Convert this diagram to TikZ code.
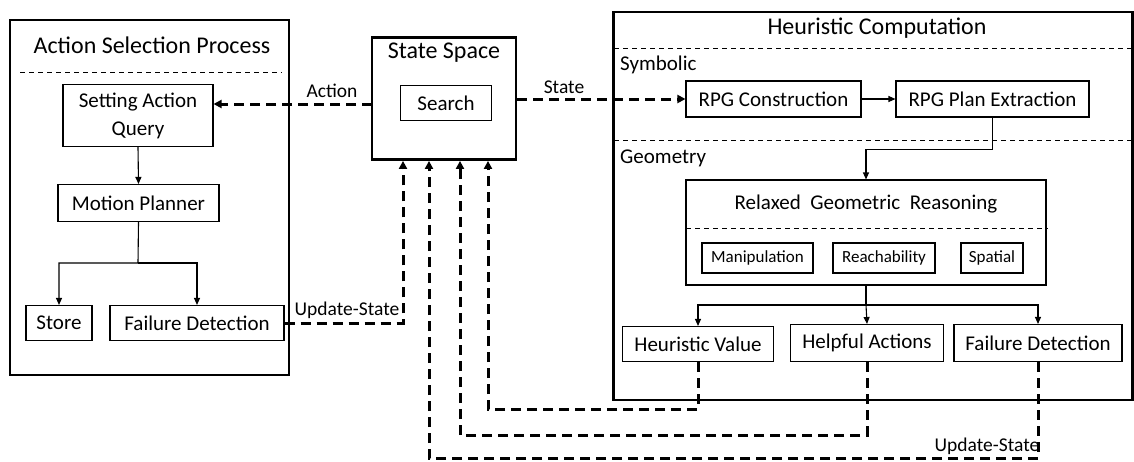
\documentclass[tikz,border=0pt]{standalone}
\usepackage{fontspec}
\setmainfont{Carlito}
\usetikzlibrary{arrows.meta}
\begin{document}
\begin{tikzpicture}[x=1pt,y=-1pt,
  outer/.style={draw, line width=2.8pt, inner sep=0pt},
  box/.style={draw, line width=1.1pt, inner sep=0pt, align=center,
    font=\fontsize{21}{28}\selectfont},
  smallbox/.style={box, font=\fontsize{17}{20}\selectfont},
  title/.style={inner sep=0pt, font=\fontsize{24}{28}\selectfont},
  lbl/.style={inner sep=0pt, font=\fontsize{19.5}{22}\selectfont},
  sec/.style={inner sep=0pt, anchor=west, font=\fontsize{21}{24}\selectfont},
  sep/.style={line width=0.9pt, dash pattern=on 5pt off 4pt},
  flow/.style={line width=1.1pt, -{Triangle[width=6pt,length=7pt]}},
  fb/.style={line width=3pt, dash pattern=on 10pt off 6pt,
    -{Triangle[width=8pt,length=8pt]}}]
\useasboundingbox (0,0) rectangle (1134,461);

% ---- action selection process ----
\node[outer, minimum width=279, minimum height=355] (asp) at (149.5,197.5) {};
\node[title] (aspT) at (152,45) {Action Selection Process};
\draw[sep] (20,72) -- (282,72);
\node[box, minimum width=150, minimum height=62] (saq) at (138,115.5) {Setting Action\\Query};
\node[box, minimum width=161, minimum height=37] (mp) at (138.5,203) {Motion Planner};
\node[box, minimum width=66, minimum height=35] (store) at (59,323) {Store};
\node[box, minimum width=174, minimum height=35] (fd1) at (197,323) {Failure Detection};

% ---- state space ----
\node[outer, minimum width=144, minimum height=122] (ss) at (444,98.5) {};
\node[title] (ssT) at (444,53) {State Space};
\node[box, minimum width=91, minimum height=35] (search) at (446,103) {Search};

% ---- heuristic computation ----
\node[outer, minimum width=519, minimum height=388] (hc) at (873,206) {};
\node[title] (hcT) at (877,28) {Heuristic Computation};
\draw[sep] (614,48) -- (1133,48);
\draw[sep] (614,140) -- (1133,140);
\node[sec] (symT) at (620,65) {Symbolic};
\node[sec] (geoT) at (620,158) {Geometry};
\node[box, minimum width=175, minimum height=36] (rpgc) at (773.5,99) {RPG Construction};
\node[box, minimum width=193, minimum height=36] (rpgp) at (992.5,99) {RPG Plan Extraction};
\node[draw, line width=1.1pt, inner sep=0pt, minimum width=360, minimum height=105] (rgr) at (866,232.5) {};
\node[inner sep=0pt, font=\fontsize{21}{24}\selectfont] (rgrT) at (866,204) {Relaxed\ \ Geometric\ \ Reasoning};
\draw[sep] (686,228) -- (1048,228);
\node[smallbox, minimum width=111, minimum height=30] (manip) at (757.5,258) {Manipulation};
\node[smallbox, minimum width=102, minimum height=30] (reach) at (884,258) {Reachability};
\node[smallbox, minimum width=62, minimum height=30] (spat) at (992,258) {Spatial};
\node[box, minimum width=151, minimum height=35] (hv) at (698,344) {Heuristic Value};
\node[box, minimum width=153, minimum height=37] (ha) at (867,343) {Helpful Actions};
\node[box, minimum width=168, minimum height=37] (fd2) at (1038,343) {Failure Detection};

% ---- solid flow inside the blocks ----
\coordinate (split1) at (138,263);
\draw[flow] (saq.south) -- (mp.north);
\draw[flow] (mp.south) -- (split1) -| (store.north);
\draw[flow] (split1) -| (fd1.north);
\draw[flow] (rpgc.east) -- (rpgp.west);
\draw[flow] (rpgp.south) -- ++(0,32) -| (rgr.north);
\coordinate (split2) at (866,305);
\draw[flow] (rgr.south) -- (split2) -| (hv.north);
\draw[flow] (split2) -- (ha.north);
\draw[flow] (split2) -| (fd2.north);

% ---- dashed exchanges with the state space ----
\coordinate (actY) at (372,104);
\draw[fb] (actY) -- (saq.east |- actY);
\node[lbl] (actL) at (332,91) {Action};
\draw[fb] (ss.east |- rpgc.west) -- (rpgc.west);
\node[lbl] (stL) at (564,87) {State};

\coordinate (in1) at ([xshift=-41pt]ss.south);
\coordinate (in2) at ([xshift=-15pt]ss.south);
\coordinate (in3) at ([xshift=16pt]ss.south);
\coordinate (in4) at ([xshift=44pt]ss.south);
\draw[fb] (fd1.east) -| (in1);
\node[lbl] (upL1) at (347,310) {Update-State};
\draw[fb] (hv.south) -- ++(0,47) -| (in4);
\draw[fb] (ha.south) -- ++(0,73) -| (in3);
\draw[fb] (fd2.south) -- ++(0,96) -| (in2);
\node[lbl] (upL2) at (987,446) {Update-State};
\end{tikzpicture}
\end{document}
